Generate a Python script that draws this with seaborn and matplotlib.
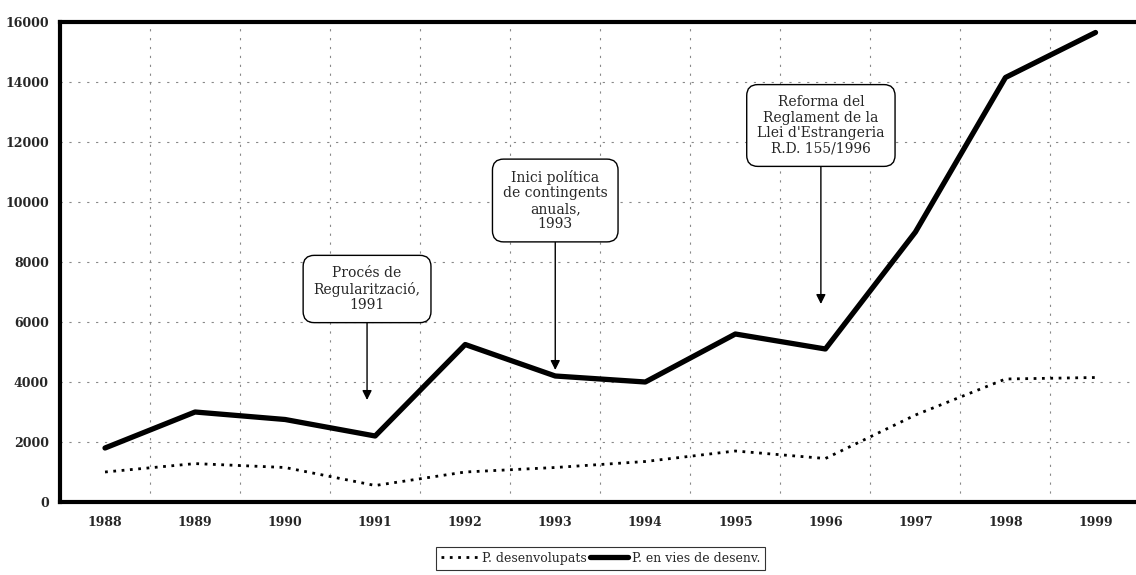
import matplotlib
matplotlib.use("Agg")
import matplotlib.pyplot as plt
import seaborn as sns
import pandas as pd
import numpy as np

years = ["1988", "1989", "1990", "1991", "1992", "1993", "1994", "1995", "1996", "1997", "1998", "1999"]
desenvolupats = [1000, 1280, 1150, 550, 1000, 1150, 1350, 1700, 1450, 2900, 4100, 4150]
en_vies = [1800, 3000, 2750, 2200, 5250, 4200, 4000, 5600, 5100, 9000, 14150, 15650]

sns.set_style("white")
plt.rcParams['font.family'] = ['DejaVu Serif']

df = pd.DataFrame({
    "idx": list(range(len(years))) * 2,
    "value": desenvolupats + en_vies,
    "serie": ["P. desenvolupats"] * len(years) + ["P. en vies de desenv."] * len(years),
})

fig = plt.figure(figsize=(11.36, 5.75), dpi=100)
ax = fig.add_axes([60/1136, 1 - 502/575, 1 - 60/1136 + 0.004, 480/575])

sns.lineplot(data=df[df.serie == "P. desenvolupats"], x="idx", y="value", ax=ax,
             color="black", linestyle=(0, (1, 2)), linewidth=2.0, label="P. desenvolupats")
sns.lineplot(data=df[df.serie == "P. en vies de desenv."], x="idx", y="value", ax=ax,
             color="black", linewidth=3.8, label="P. en vies de desenv.")

ax.set_xlim(-0.5, 11.5)
ax.set_ylim(0, 16000)
ax.set_yticks(np.arange(0, 16001, 2000))
ax.set_yticklabels([str(v) for v in range(0, 16001, 2000)], fontweight="bold", fontsize=9)
ax.set_xticks(range(len(years)))
ax.set_xticklabels(years, fontweight="bold", fontsize=9)
ax.set_xticks(np.arange(-0.5, 11.6, 1), minor=True)
ax.tick_params(axis="x", which="major", length=0, pad=10)
ax.tick_params(axis="x", which="minor", length=4, width=1, color="black", direction="out")
ax.tick_params(axis="y", length=4, width=1, color="black", direction="out", pad=4)
ax.set_xlabel("")
ax.set_ylabel("")

ax.grid(False)
for y in range(2000, 16000, 2000):
    ax.axhline(y, color="#888888", linestyle=(0, (2, 6)), linewidth=0.8, zorder=0)
ax.grid(axis="x", which="minor", color="#888888", linestyle=(0, (2, 6)), linewidth=0.8)

for s in ["left", "top", "bottom"]:
    ax.spines[s].set_linewidth(3)
    ax.spines[s].set_color("black")
ax.spines["right"].set_visible(False)

box = dict(boxstyle="round,pad=0.75,rounding_size=0.8", fc="white", ec="black", lw=1)
arrow = dict(arrowstyle="-|>", color="black", lw=1, mutation_scale=14, shrinkA=0, shrinkB=0)

ax.annotate("Procés de\nRegularització,\n1991", xy=(2.91, 3400), xytext=(2.91, 7100),
            ha="center", va="center", fontsize=10, bbox=box, arrowprops=arrow,
            linespacing=1.15)
ax.annotate("Inici política\nde contingents\nanuals,\n1993", xy=(5.0, 4400), xytext=(5.0, 10050),
            ha="center", va="center", fontsize=10, bbox=box, arrowprops=arrow,
            linespacing=1.15)
ax.annotate("Reforma del\nReglament de la\nLlei d'Estrangeria\nR.D. 155/1996", xy=(7.95, 6600),
            xytext=(7.95, 12550),
            ha="center", va="center", fontsize=10, bbox=box, arrowprops=arrow,
            linespacing=1.15)

ax.legend(loc="upper center", bbox_to_anchor=(0.5, -0.08), ncol=2, frameon=True,
          fancybox=False, edgecolor="black", fontsize=9, handlelength=3,
          columnspacing=0.3, handletextpad=0.3, borderpad=0.4)
leg = ax.get_legend()
leg.get_frame().set_linewidth(0.8)

fig.savefig("out.png", dpi=100)
